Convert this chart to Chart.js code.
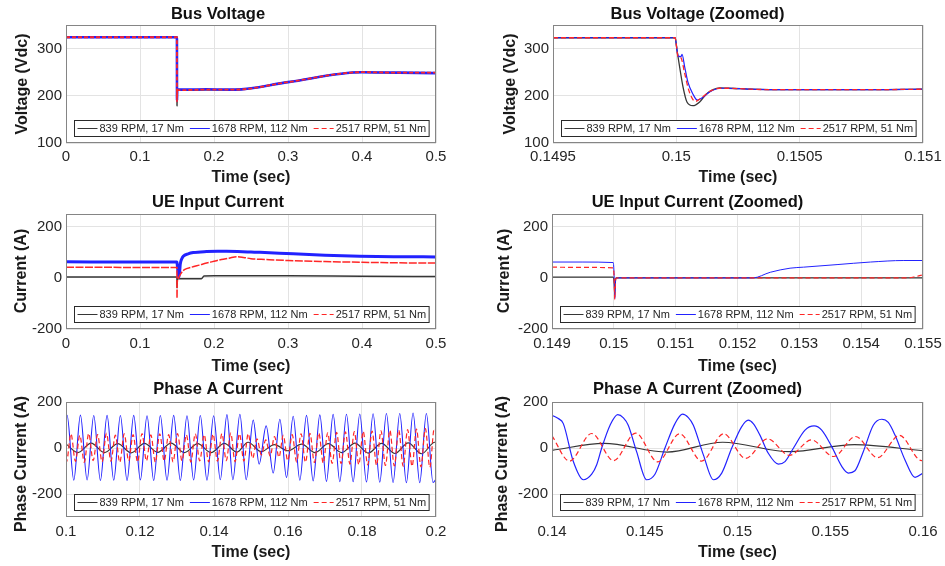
<!DOCTYPE html>
<html><head><meta charset="utf-8">
<script src="https://cdn.jsdelivr.net/npm/chart.js@4.4.1/dist/chart.umd.min.js"></script>
<style>
html,body{margin:0;padding:0;background:#fff;width:945px;height:566px;overflow:hidden;position:relative;}
canvas{position:absolute;}
</style></head><body>
<canvas id="c1" width="472" height="189" style="left:0;top:0"></canvas>
<canvas id="c2" width="473" height="189" style="left:472px;top:0"></canvas>
<canvas id="c3" width="472" height="188" style="left:0;top:189px"></canvas>
<canvas id="c4" width="473" height="188" style="left:472px;top:189px"></canvas>
<canvas id="c5" width="472" height="189" style="left:0;top:377px"></canvas>
<canvas id="c6" width="473" height="189" style="left:472px;top:377px"></canvas>
<script>
// ---------- labels ----------
const seriesNames = ['839 RPM, 17 Nm', '1678 RPM, 112 Nm', '2517 RPM, 51 Nm'];
const chartTitles = ['Bus Voltage', 'Bus Voltage (Zoomed)', 'UE Input Current', 'UE Input Current (Zoomed)', 'Phase A Current', 'Phase A Current (Zoomed)'];
const yTitles = ['Voltage (Vdc)', 'Current (A)', 'Phase Current (A)'];
const xTitle = 'Time (sec)';

// ---------- tick labels ----------
const busFullXTicks = ['0', '0.1', '0.2', '0.3', '0.4', '0.5'];
const busZoomXTicks = ['0.1495', '0.15', '0.1505', '0.151'];
const ueFullXTicks = ['0', '0.1', '0.2', '0.3', '0.4', '0.5'];
const ueZoomXTicks = ['0.149', '0.15', '0.151', '0.152', '0.153', '0.154', '0.155'];
const phaseFullXTicks = ['0.1', '0.12', '0.14', '0.16', '0.18', '0.2'];
const phaseZoomXTicks = ['0.14', '0.145', '0.15', '0.155', '0.16'];
const busYTicks = ['100', '200', '300'];
const ueYTicks = ['-200', '0', '200'];
const phaseYTicks = ['-200', '0', '200'];
const busYRange = [100, 350];
const ueYRange = [-200, 250];
const phaseYRange = [-300, 200];

// ---------- Bus voltage (full) ----------
const busFullBlackT = [0, 0.1499, 0.15, 0.1502, 0.1506, 0.152, 0.19, 0.228, 0.3, 0.4, 0.45, 0.5];
const busFullBlackV = [324, 324, 178, 200, 213, 212, 213, 213, 229, 250, 249, 249];
const busFullBlueT = [0, 0.1499, 0.15, 0.1502, 0.1506, 0.152, 0.19, 0.228, 0.3, 0.4, 0.45, 0.5];
const busFullBlueV = [324, 324, 190, 205, 214, 213, 214, 213, 229, 250, 249, 248];
const busFullRedT = [0, 0.1499, 0.15, 0.1502, 0.1506, 0.152, 0.19, 0.228, 0.3, 0.4, 0.45, 0.5];
const busFullRedV = [324, 324, 188, 204, 213, 212, 213, 213, 229, 250, 249, 249];

// ---------- Bus voltage (zoomed) ----------
const busZoomBlackT = [0.1495, 0.149995, 0.1500025, 0.1500134, 0.150027, 0.150043, 0.150067, 0.1500946, 0.150122, 0.150149, 0.150176, 0.15021, 0.15026, 0.1503, 0.1504, 0.1506, 0.1508, 0.151];
const busZoomBlackV = [323, 323, 297, 261, 219, 187, 179, 187, 204, 213, 217, 216, 215, 214, 213, 213, 213, 214];
const busZoomBlueT = [0.1495, 0.149995, 0.1500048, 0.150008, 0.150019, 0.150023, 0.150034, 0.150047, 0.150067, 0.150085, 0.150108, 0.150135, 0.150176, 0.15021, 0.15026, 0.1503, 0.1504, 0.1506, 0.1508, 0.151];
const busZoomBlueV = [323, 323, 290, 284, 283, 288, 261, 229, 204, 191, 197, 208, 216, 216, 215, 214, 213, 213, 213, 214];
const busZoomRedT = [0.1495, 0.149995, 0.150007, 0.150018, 0.150034, 0.150051, 0.150077, 0.1501, 0.150135, 0.150176, 0.15021, 0.15026, 0.1503, 0.1504, 0.1506, 0.1508, 0.151];
const busZoomRedV = [323, 323, 283, 281, 247, 211, 188, 195, 209, 216, 216, 215, 214, 213, 213, 213, 214];

// ---------- UE input current (full) ----------
const ueFullBlackT = [0, 0.1499, 0.15, 0.1503, 0.183, 0.1865, 0.2, 0.3, 0.4, 0.5];
const ueFullBlackV = [3, 3, -40, -3, -3, 7, 8, 8, 6, 5];
const ueFullBlueT = [0, 0.1, 0.1499, 0.15, 0.1527, 0.1545, 0.1565, 0.1585, 0.165, 0.172, 0.19, 0.205, 0.217, 0.25, 0.262, 0.307, 0.35, 0.397, 0.45, 0.5];
const ueFullBlueV = [63, 62, 62, 60, 2, 55, 75, 85, 94, 99, 103, 104, 104, 101, 100, 94, 89, 85, 83, 82];
const ueFullRedT = [0, 0.1, 0.1499, 0.15, 0.1503, 0.1515, 0.153, 0.156, 0.16, 0.17, 0.18, 0.19, 0.2, 0.21, 0.22, 0.231, 0.24, 0.25, 0.27, 0.3, 0.35, 0.4, 0.45, 0.5];
const ueFullRedV = [42, 41, 41, -80, -20, -5, 5, 20, 32, 42, 50, 58, 65, 72, 77, 83, 80, 75, 72, 68, 64, 61, 59, 58];

// ---------- UE input current (zoomed) ----------
const ueZoomBlackT = [0.149, 0.14999, 0.150005, 0.150015, 0.15003, 0.15005, 0.155];
const ueZoomBlackV = [3, 3, -20, -60, -3, 0, 0];
const ueZoomBlueT = [0.149, 0.1495, 0.14999, 0.150005, 0.150015, 0.15003, 0.15005, 0.15225, 0.15253, 0.15285, 0.15307, 0.15361, 0.15415, 0.15469, 0.155];
const ueZoomBlueV = [62, 62, 60, 10, -80, -5, 0, 0, 22, 38, 42, 52, 62, 68, 68];
const ueZoomRedT = [0.149, 0.1495, 0.14999, 0.150005, 0.150015, 0.15003, 0.15005, 0.15475, 0.15488, 0.155];
const ueZoomRedV = [42, 41, 39, 0, -85, -5, 0, 0, 5, 12];

// ---------- Phase A current (full) ----------
const phFullBlackT = [0.1, 0.1032, 0.1068, 0.1104, 0.1140, 0.1176, 0.1212, 0.1248, 0.1284, 0.1320, 0.1356, 0.1392, 0.1428, 0.1462, 0.1492, 0.1528, 0.1563, 0.1600, 0.1637, 0.1673, 0.1709, 0.1745, 0.1781, 0.1817, 0.1853, 0.1889, 0.1925, 0.1961, 0.1997, 0.2];
const phFullBlackV = [18, -20, 21, -20, 19, -21, 20, -19, 21, -20, 19, -20, 20, -18, 25, -16, 15, -12, 17, -20, 19, -20, 21, -22, 20, -24, 22, -25, 25, 24];
const phFullBlueT = [0.1, 0.1003, 0.1021, 0.1039, 0.1057, 0.1075, 0.1093, 0.1111, 0.1129, 0.1147, 0.1165, 0.1183, 0.1201, 0.1219, 0.1237, 0.1255, 0.1273, 0.1291, 0.1309, 0.1327, 0.1345, 0.1363, 0.1381, 0.1399, 0.1417, 0.1435, 0.1451, 0.1470, 0.1487, 0.1506, 0.1522, 0.1541, 0.1560, 0.1578, 0.1596, 0.1614, 0.1632, 0.1650, 0.1668, 0.1686, 0.1704, 0.1722, 0.1740, 0.1758, 0.1776, 0.1794, 0.1812, 0.1830, 0.1848, 0.1866, 0.1884, 0.1902, 0.1920, 0.1938, 0.1956, 0.1974, 0.1992, 0.2];
const phFullBlueV = [138, 142, -140, 143, -139, 141, -141, 142, -140, 141, -141, 142, -139, 140, -141, 141, -140, 142, -141, 140, -139, 141, -140, 140, -138, 145, -138, 147, -138, 121, -70, 96, -109, 125, -128, 138, -140, 142, -143, 144, -145, 146, -146, 147, -147, 148, -148, 149, -149, 150, -150, 150, -151, 152, -151, 150, -150, -135];
const phFullRedT = [0.1, 0.10014, 0.10134, 0.10254, 0.10374, 0.10494, 0.10614, 0.10734, 0.10854, 0.10974, 0.11094, 0.11214, 0.11334, 0.11454, 0.11574, 0.11694, 0.11814, 0.11934, 0.12054, 0.12174, 0.12294, 0.12414, 0.12534, 0.12654, 0.12774, 0.12894, 0.13014, 0.13134, 0.13254, 0.13374, 0.13494, 0.13614, 0.13734, 0.13854, 0.13974, 0.14094, 0.14214, 0.14332, 0.14451, 0.1457, 0.14688, 0.14807, 0.14925, 0.15044, 0.15162, 0.1528, 0.15399, 0.15518, 0.15636, 0.15755, 0.15873, 0.15992, 0.16113, 0.16233, 0.16353, 0.16473, 0.16593, 0.16713, 0.16833, 0.16953, 0.17073, 0.17193, 0.17313, 0.17433, 0.17553, 0.17673, 0.17793, 0.17913, 0.18033, 0.18153, 0.18273, 0.18393, 0.18513, 0.18633, 0.18753, 0.18873, 0.18993, 0.19113, 0.19233, 0.19353, 0.19473, 0.19593, 0.19713, 0.19833, 0.19953, 0.2];
const phFullRedV = [-50, -60, 62, -58, 55, -62, 63, -55, 58, -60, 64, -57, 56, -62, 62, -56, 58, -61, 63, -56, 57, -62, 62, -57, 58, -60, 63, -55, 57, -61, 62, -56, 58, -60, 60, -57, 62, -55, 65, -60, 62, -57, 62, -45, 40, -30, 35, -35, 50, -40, 55, -55, 58, -60, 62, -62, 64, -63, 65, -66, 66, -67, 68, -68, 70, -70, 71, -72, 72, -73, 74, -75, 75, -76, 77, -78, 78, -79, 80, -80, 82, -82, 84, -84, 85, 80];

// ---------- Phase A current (zoomed) ----------
const phZoomBlackT = [0.14, 0.1428, 0.1462, 0.1492, 0.1528, 0.1563, 0.16];
const phZoomBlackV = [-10, 20, -18, 25, -16, 15, -12];
const phZoomBlueT = [0.14, 0.14034, 0.14061, 0.14115, 0.14169, 0.14214, 0.14241, 0.14268, 0.14313, 0.14354, 0.14385, 0.14411, 0.14456, 0.1451, 0.14555, 0.14609, 0.14663, 0.14704, 0.14735, 0.14762, 0.14816, 0.1487, 0.14915, 0.14969, 0.15022, 0.15058, 0.15085, 0.15121, 0.15166, 0.1522, 0.15256, 0.15301, 0.15364, 0.15413, 0.15454, 0.15508, 0.15562, 0.15598, 0.15633, 0.15678, 0.15732, 0.15777, 0.15813, 0.15849, 0.15903, 0.15957, 0.16];
const phZoomBlueV = [142, 128, 106, -59, -138, -114, -73, 0, 99, 145, 131, 99, -16, -138, -114, 0, 106, 147, 132, 99, -30, -138, -109, 0, 92, 121, 106, 56, -23, -70, -59, -1, 78, 96, 78, 6, -80, -109, -99, -16, 99, 125, 111, 56, -52, -128, -109];
const phZoomRedT = [0.14, 0.14094, 0.14214, 0.14332, 0.14451, 0.1457, 0.14688, 0.14807, 0.14925, 0.15044, 0.15162, 0.1528, 0.15399, 0.15518, 0.15636, 0.15755, 0.15873, 0.15992, 0.16];
const phZoomRedV = [53, -57, 63, -55, 65, -60, 62, -57, 62, -45, 40, -32, 35, -37, 50, -42, 55, -55, -54];

// ---------- styling ----------
const FONT = "'Liberation Sans', Arial, Helvetica, sans-serif";
const seriesColors = ['#363636', '#2222ff', '#ff2626'];
const seriesDash = [[], [], [5, 3]];

function pts(T, V) { return T.map((t, i) => ({x: t, y: V[i]})); }

const framePlugin = {
  id: 'frame',
  afterDatasetsDraw(chart) {
    const a = chart.chartArea, ctx = chart.ctx;
    ctx.save();
    ctx.strokeStyle = '#858585'; ctx.lineWidth = 1;
    ctx.strokeRect(Math.round(a.left) + 0.5, Math.round(a.top) + 0.5, Math.round(a.right - a.left) - 1, Math.round(a.bottom - a.top) - 1);
    ctx.restore();
  }
};

function makeOverlay(c) {
  return {
    id: 'overlay',
    afterDraw(chart) {
      const ctx = chart.ctx, a = chart.chartArea, g = c.g;
      ctx.save();
      // y axis title
      ctx.font = 'bold 16px ' + FONT;
      ctx.fillStyle = '#1a1a1a';
      ctx.textAlign = 'center'; ctx.textBaseline = 'middle';
      ctx.translate(g.yTitleX - g.x0, g.yTitleY - g.y0);
      ctx.rotate(-Math.PI / 2);
      ctx.fillText(c.yTitle, 0, 0);
      ctx.setTransform(1, 0, 0, 1, 0, 0);
      // legend box
      ctx.font = '11px ' + FONT;
      const LL = 20, G1 = 2, G2 = 6, PS = 3;
      const w = seriesNames.map(s => ctx.measureText(s).width);
      const total = PS * 2 + w.reduce((s, x) => s + x + LL + G1, 0) + G2 * (w.length - 1);
      const bh = 16;
      const bx = Math.round((a.left + a.right) / 2 - total / 2) + 0.5;
      const by = Math.round(a.bottom - 7 - bh) + 0.5;
      ctx.fillStyle = '#fff'; ctx.fillRect(bx, by, total, bh);
      ctx.strokeStyle = '#2a2a2a'; ctx.lineWidth = 1; ctx.strokeRect(bx, by, total, bh);
      let x = bx + PS; const cy = by + bh / 2;
      seriesNames.forEach((s, i) => {
        ctx.beginPath(); ctx.setLineDash(seriesDash[i]);
        ctx.strokeStyle = seriesColors[i]; ctx.lineWidth = 1;
        ctx.moveTo(x, cy); ctx.lineTo(x + LL, cy); ctx.stroke();
        ctx.setLineDash([]);
        ctx.fillStyle = '#262626'; ctx.textAlign = 'left'; ctx.textBaseline = 'middle';
        ctx.fillText(s, x + LL + G1, cy + 0.5);
        x += LL + G1 + w[i] + G2;
      });
      ctx.restore();
    }
  };
}

function makeChart(c) {
  const g = c.g;
  const TITLE_LH = 16.5 * 1.2, AX_LH = 16 * 1.2, TICK_LH = 15 * 1.2;
  const tPadTop = g.titleY - g.y0 - TITLE_LH / 2;
  const tPadBot = (g.plotT - g.y0) - tPadTop - TITLE_LH;
  const yAxisW = g.plotL - g.x0;
  const xAxisH = g.y0 + g.h - g.plotB;
  const xTickPad = g.tickY - g.plotB - TICK_LH / 2;
  const xTitlePadBot = g.y0 + g.h - AX_LH / 2 - g.xTitleY;
  const xv = c.xTicks.map(parseFloat);
  const yv = c.yTicks.map(parseFloat);
  const datasets = [0, 1, 2].map(i => ({
    label: seriesNames[i],
    data: pts(c.T[i], c.V[i]),
    borderColor: seriesColors[i],
    borderWidth: c.widths[i],
    borderDash: (c.dash && c.dash[i]) || seriesDash[i],
    pointRadius: 0,
    fill: false,
    tension: 0.4,
    cubicInterpolationMode: 'monotone',
    order: 2 - i,
    clip: 0
  }));
  new Chart(document.getElementById(c.id), {
    type: 'line',
    data: {datasets},
    options: {
      responsive: false, animation: false, devicePixelRatio: 1,
      layout: {padding: {left: 0, top: 0, bottom: 0, right: g.x0 + g.w - g.plotR}},
      plugins: {
        legend: {display: false}, tooltip: {enabled: false},
        title: {display: true, text: c.title, color: '#111',
          font: {family: FONT, size: 16.5, weight: 'bold'},
          padding: {top: tPadTop, bottom: tPadBot}}
      },
      scales: {
        x: {
          type: 'linear', min: xv[0], max: xv[xv.length - 1],
          afterBuildTicks: s => { s.ticks = xv.map(v => ({value: v})); },
          afterFit: s => { s.height = xAxisH; s.paddingLeft = 0; s.paddingRight = 0; },
          ticks: {autoSkip: false, maxRotation: 0, minRotation: 0, padding: xTickPad,
            font: {family: FONT, size: 15}, color: '#262626',
            callback: (v, i) => c.xTicks[i]},
          grid: {color: '#e3e3e3', lineWidth: 1, drawTicks: false},
          border: {display: false},
          title: {display: true, text: xTitle, color: '#1a1a1a',
            font: {family: FONT, size: 16, weight: 'bold'},
            padding: {top: 0, bottom: xTitlePadBot}}
        },
        y: {
          type: 'linear', min: c.yRange[0], max: c.yRange[1],
          afterBuildTicks: s => { s.ticks = yv.map(v => ({value: v})); },
          afterFit: s => { s.width = yAxisW; s.paddingTop = 0; s.paddingBottom = 0; },
          ticks: {autoSkip: false, padding: 4, font: {family: FONT, size: 15}, color: '#262626',
            callback: (v, i) => c.yTicks[i]},
          grid: {color: '#e3e3e3', lineWidth: 1, drawTicks: false},
          border: {display: false},
          title: {display: false}
        }
      }
    },
    plugins: [framePlugin, makeOverlay(c)]
  });
}

const chartDefs = [
  {id: 'c1', title: chartTitles[0], yTitle: yTitles[0], xTicks: busFullXTicks, yTicks: busYTicks, yRange: busYRange,
   g: {x0: 0, y0: 0, w: 472, h: 189, plotL: 66, plotR: 436, plotT: 25, plotB: 143, titleY: 14, yTitleX: 23, yTitleY: 84, tickY: 157, xTitleY: 178},
   T: [busFullBlackT, busFullBlueT, busFullRedT], V: [busFullBlackV, busFullBlueV, busFullRedV], widths: [1.5, 2.6, 1.8], dash: [null, null, [4, 2]]},
  {id: 'c2', title: chartTitles[1], yTitle: yTitles[0], xTicks: busZoomXTicks, yTicks: busYTicks, yRange: busYRange,
   g: {x0: 472, y0: 0, w: 473, h: 189, plotL: 553, plotR: 923, plotT: 25, plotB: 143, titleY: 14, yTitleX: 511, yTitleY: 84, tickY: 157, xTitleY: 178},
   T: [busZoomBlackT, busZoomBlueT, busZoomRedT], V: [busZoomBlackV, busZoomBlueV, busZoomRedV], widths: [1.3, 1.2, 1.3]},
  {id: 'c3', title: chartTitles[2], yTitle: yTitles[1], xTicks: ueFullXTicks, yTicks: ueYTicks, yRange: ueYRange,
   g: {x0: 0, y0: 189, w: 472, h: 188, plotL: 66, plotR: 436, plotT: 214, plotB: 329, titleY: 202, yTitleX: 22, yTitleY: 271, tickY: 344, xTitleY: 367},
   T: [ueFullBlackT, ueFullBlueT, ueFullRedT], V: [ueFullBlackV, ueFullBlueV, ueFullRedV], widths: [1.5, 3, 1.5], dash: [null, null, [8, 1.5]]},
  {id: 'c4', title: chartTitles[3], yTitle: yTitles[1], xTicks: ueZoomXTicks, yTicks: ueYTicks, yRange: ueYRange,
   g: {x0: 472, y0: 189, w: 473, h: 188, plotL: 552, plotR: 923, plotT: 214, plotB: 329, titleY: 202, yTitleX: 505, yTitleY: 271, tickY: 344, xTitleY: 367},
   T: [ueZoomBlackT, ueZoomBlueT, ueZoomRedT], V: [ueZoomBlackV, ueZoomBlueV, ueZoomRedV], widths: [1.2, 1, 1.2]},
  {id: 'c5', title: chartTitles[4], yTitle: yTitles[2], xTicks: phaseFullXTicks, yTicks: phaseYTicks, yRange: phaseYRange,
   g: {x0: 0, y0: 377, w: 472, h: 189, plotL: 66, plotR: 436, plotT: 402, plotB: 517, titleY: 389, yTitleX: 22, yTitleY: 464, tickY: 532, xTitleY: 553},
   T: [phFullBlackT, phFullBlueT, phFullRedT], V: [phFullBlackV, phFullBlueV, phFullRedV], widths: [1.2, 1.1, 1.2]},
  {id: 'c6', title: chartTitles[5], yTitle: yTitles[2], xTicks: phaseZoomXTicks, yTicks: phaseYTicks, yRange: phaseYRange,
   g: {x0: 472, y0: 377, w: 473, h: 189, plotL: 552, plotR: 923, plotT: 402, plotB: 517, titleY: 389, yTitleX: 503, yTitleY: 464, tickY: 532, xTitleY: 553},
   T: [phZoomBlackT, phZoomBlueT, phZoomRedT], V: [phZoomBlackV, phZoomBlueV, phZoomRedV], widths: [1.2, 1.2, 1.2]}
];
chartDefs.forEach(makeChart);
</script>
</body></html>
